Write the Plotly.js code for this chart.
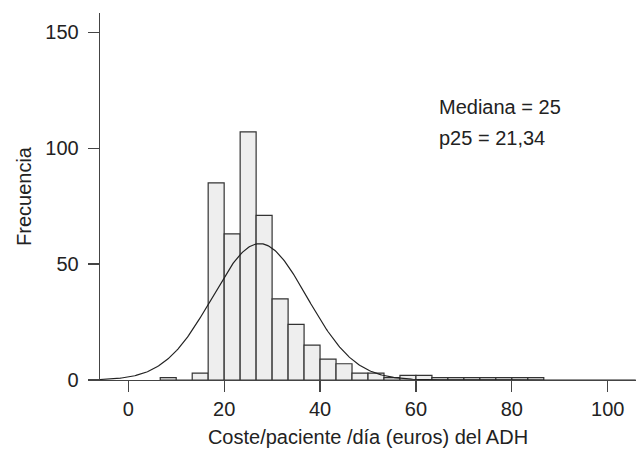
<!DOCTYPE html>
<html>
<head>
<meta charset="utf-8">
<script src="https://cdn.plot.ly/plotly-3.0.1.min.js"></script>
<style>html,body{margin:0;padding:0;background:#fff;}#chart{width:640px;height:449px;}</style>
</head>
<body>
<div id="chart"></div>
<script>
// Histogram bins (centres, euros) and frequencies
const binCenters = [8.33, 11.67, 15, 18.33, 21.67, 25, 28.33, 31.67, 35, 38.33, 41.67, 45, 48.33, 51.67, 55, 58.33, 61.67, 65, 68.33, 71.67, 75, 78.33, 81.67, 85];
const counts     = [1, 0, 3, 85, 63, 107, 71, 35, 24, 15, 9, 7, 3, 3, 1, 2, 2, 1, 1, 1, 1, 1, 1, 1];
const binWidth = 10 / 3;

// Normal curve parameters estimated from the drawn curve
const normalMean = 27.4;
const normalSD = 9.9;

const xTicks = [0, 20, 40, 60, 80, 100];
const yTicks = [0, 50, 100, 150];
const annotationLines = ["Mediana = 25", "p25 = 21,34"];

const totalN = counts.reduce((a, b) => a + b, 0);
const curveX = [];
const curveY = [];
for (let x = -5.9; x <= 105.9; x += 0.25) {
  const z = (x - normalMean) / normalSD;
  curveX.push(x);
  curveY.push(totalN * binWidth * Math.exp(-0.5 * z * z) / (normalSD * Math.sqrt(2 * Math.PI)));
}

const font = "Liberation Sans, Arial, Helvetica, sans-serif";

const traces = [
  {
    type: "bar",
    x: binCenters,
    y: counts,
    width: binWidth,
    marker: { color: "#eeeeee", line: { color: "#333333", width: 1.2 } },
    hoverinfo: "x+y"
  },
  {
    type: "scatter",
    mode: "lines",
    x: curveX,
    y: curveY,
    line: { color: "#222222", width: 1.2 },
    hoverinfo: "skip"
  }
];

const layout = {
  width: 640,
  height: 449,
  margin: { l: 100, r: 4, t: 13, b: 69 },
  paper_bgcolor: "#ffffff",
  plot_bgcolor: "#ffffff",
  showlegend: false,
  bargap: 0,
  font: { family: font, size: 20, color: "#222222" },
  xaxis: {
    range: [-5.9, 105.9],
    tickvals: xTicks,
    ticktext: xTicks.map(String),
    ticks: "outside",
    ticklen: 11,
    tickwidth: 1.3,
    tickcolor: "#444444",
    showline: true,
    linecolor: "#444444",
    linewidth: 1.3,
    showgrid: false,
    zeroline: false,
    tickfont: { family: font, size: 20, color: "#222222" },
    title: { text: "Coste/paciente /día (euros) del ADH", font: { family: font, size: 20, color: "#222222" }, standoff: 10 }
  },
  yaxis: {
    range: [0, 158.3],
    tickvals: yTicks,
    ticktext: yTicks.map(String),
    ticks: "outside",
    ticklen: 11,
    tickwidth: 1.3,
    tickcolor: "#444444",
    showline: true,
    linecolor: "#444444",
    linewidth: 1.3,
    showgrid: false,
    zeroline: false,
    ticklabelstandoff: 5,
    tickfont: { family: font, size: 20, color: "#222222" },
    title: { text: "Frecuencia", font: { family: font, size: 20, color: "#222222" }, standoff: 8 }
  },
  annotations: annotationLines.map((t, i) => ({
    text: t,
    xref: "paper",
    yref: "paper",
    x: (437 - 100) / 536,
    y: i === 0 ? (380 - 106.7) / 367 : (380 - 138) / 367,
    xanchor: "left",
    yanchor: "middle",
    showarrow: false,
    font: { family: font, size: 20, color: "#222222" }
  }))
};

Plotly.newPlot("chart", traces, layout, { displayModeBar: false, staticPlot: true });
</script>
</body>
</html>
